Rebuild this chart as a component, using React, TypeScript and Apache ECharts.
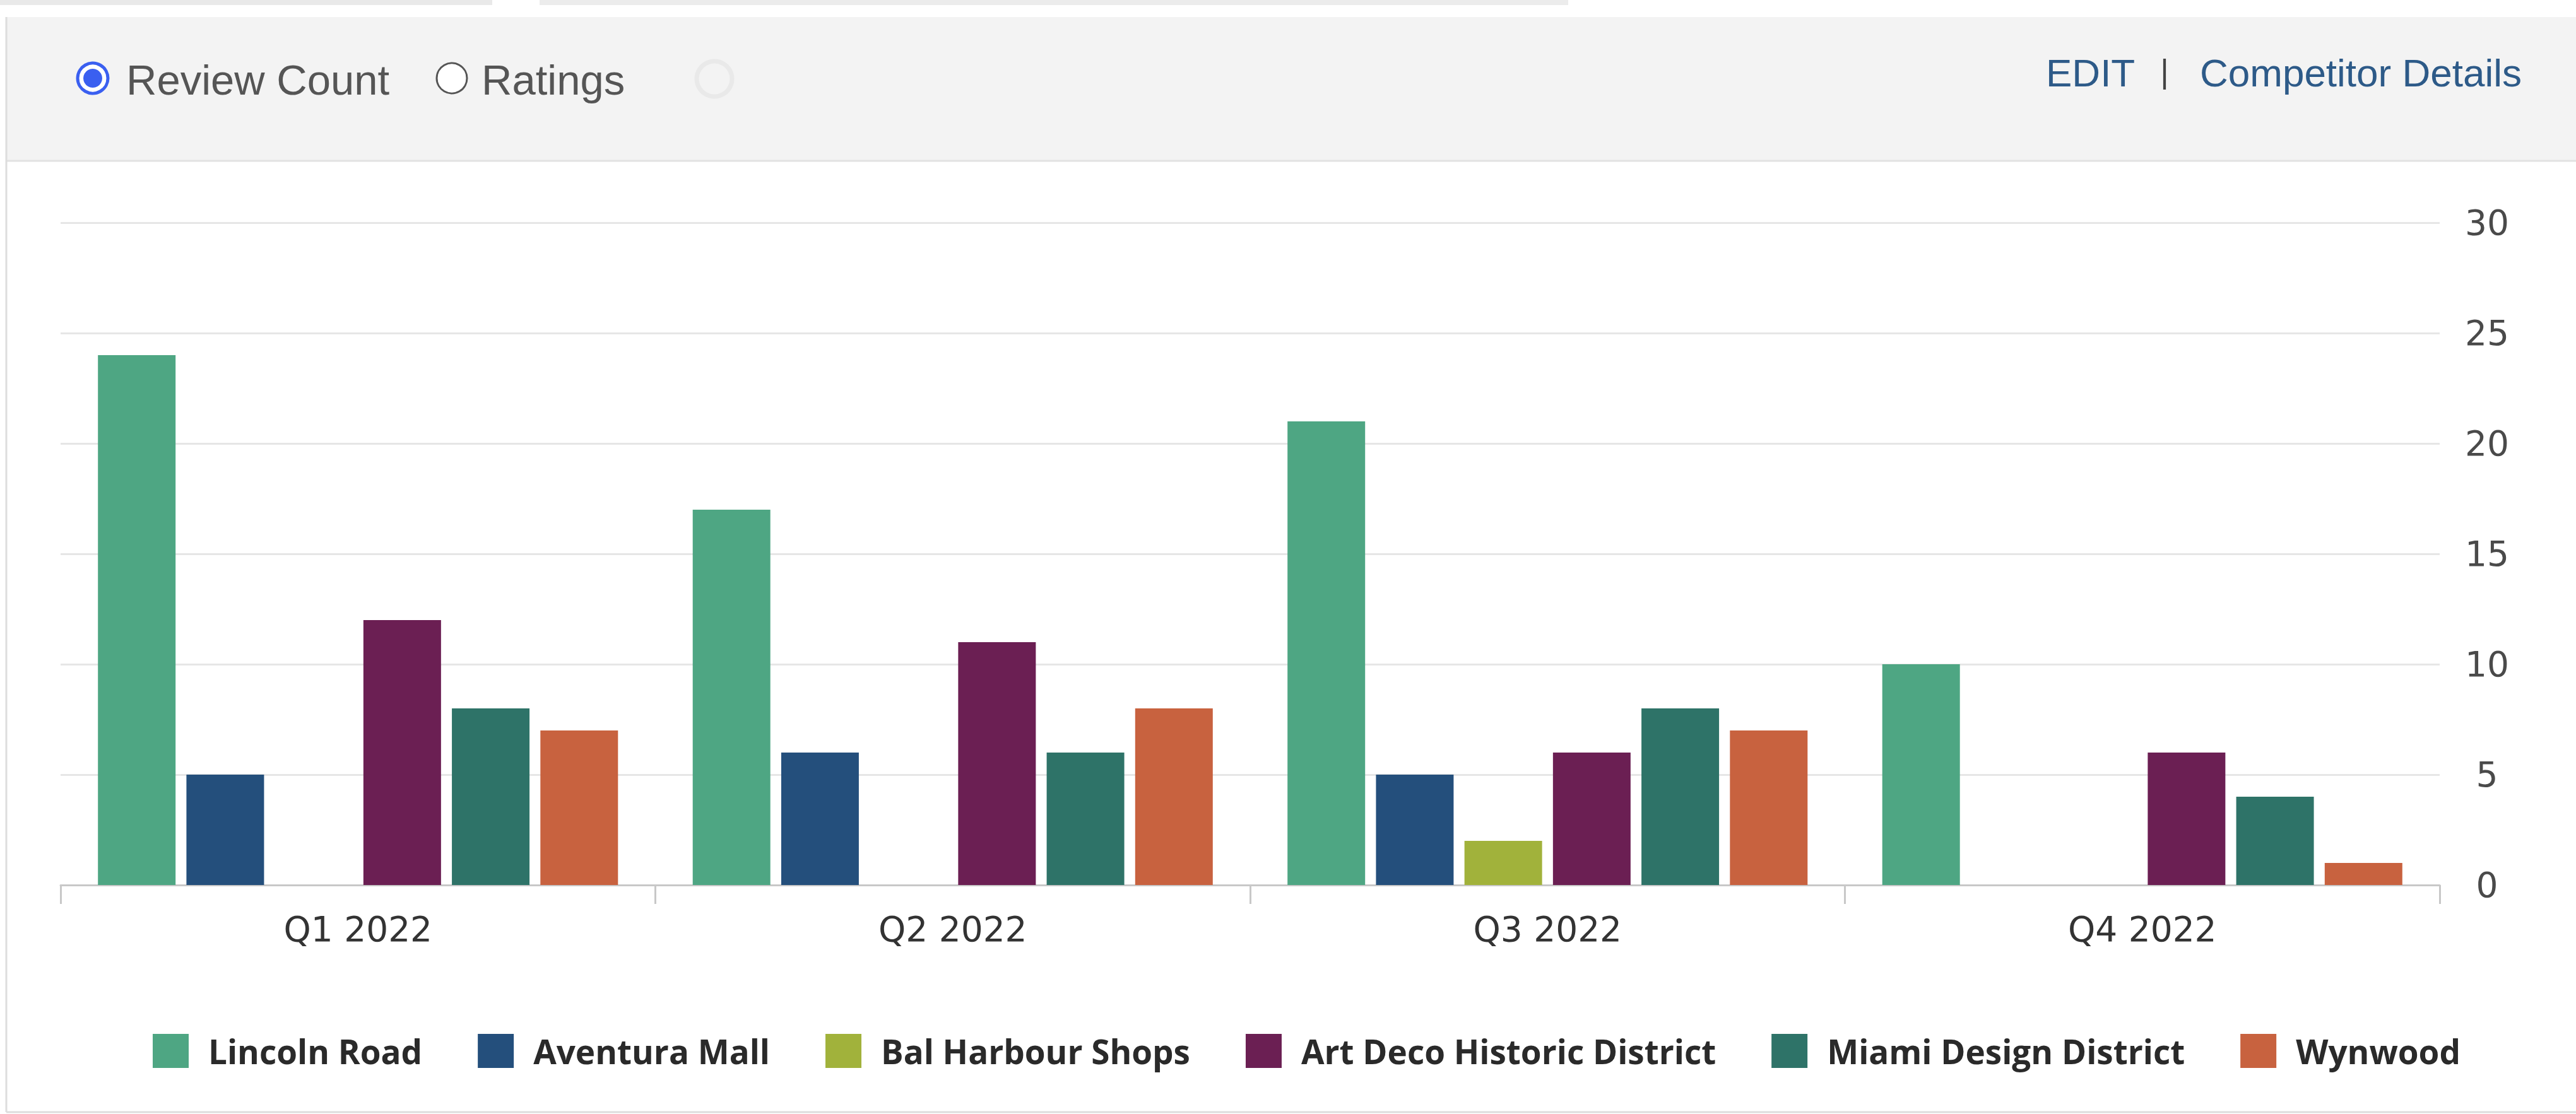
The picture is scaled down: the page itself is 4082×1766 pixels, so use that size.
import React, { useEffect, useRef } from "react";
import * as echarts from "echarts";

const quarters = ["Q1 2022", "Q2 2022", "Q3 2022", "Q4 2022"];
const seriesNames = [
  "Lincoln Road",
  "Aventura Mall",
  "Bal Harbour Shops",
  "Art Deco Historic District",
  "Miami Design District",
  "Wynwood",
];
const lincolnRoad = [24, 17, 21, 10];
const aventuraMall = [5, 6, 5, 0];
const balHarbourShops = [0, 0, 2, 0];
const artDeco = [12, 11, 6, 6];
const miamiDesign = [8, 6, 8, 4];
const wynwood = [7, 8, 7, 1];
const seriesValues = [lincolnRoad, aventuraMall, balHarbourShops, artDeco, miamiDesign, wynwood];
const seriesColors = ["#4ea683", "#244f7c", "#a1b23b", "#6b1f53", "#2e7368", "#c8623f"];
const yTicks = { min: 0, max: 30, interval: 5 };

export default function App() {
  const ref = useRef<HTMLDivElement>(null);
  useEffect(() => {
    if (!ref.current) return;
    const chart = echarts.init(ref.current, null, { renderer: "svg" });
    const headerFont = "'Liberation Sans', Arial, sans-serif";
    chart.setOption({
      animation: false,
      backgroundColor: "#ffffff",
      graphic: [
        { type: "rect", shape: { x: 0, y: 0, width: 780, height: 8 }, style: { fill: "#e9e9e9" } },
        { type: "rect", shape: { x: 855, y: 0, width: 1630, height: 8 }, style: { fill: "#ececec" } },
        { type: "rect", shape: { x: 10, y: 27, width: 4072, height: 228 }, style: { fill: "#f3f3f3" } },
        { type: "line", shape: { x1: 10, y1: 255, x2: 4082, y2: 255 }, style: { stroke: "#e2e2e2", lineWidth: 3 } },
        { type: "line", shape: { x1: 10, y1: 27, x2: 10, y2: 1763 }, style: { stroke: "#dddddd", lineWidth: 3 } },
        { type: "line", shape: { x1: 10, y1: 1763, x2: 4082, y2: 1763 }, style: { stroke: "#dddddd", lineWidth: 3 } },
        { type: "circle", shape: { cx: 147, cy: 124, r: 24 }, style: { fill: "#ffffff", stroke: "#3a5ff0", lineWidth: 5 } },
        { type: "circle", shape: { cx: 147, cy: 124, r: 15 }, style: { fill: "#3a5ff0" } },
        { type: "text", x: 200, y: 126, style: { text: "Review Count", fontFamily: headerFont, fontSize: 67, fill: "#555555", verticalAlign: "middle" } },
        { type: "circle", shape: { cx: 716, cy: 124, r: 24 }, style: { fill: "#ffffff", stroke: "#555555", lineWidth: 3 } },
        { type: "text", x: 763, y: 126, style: { text: "Ratings", fontFamily: headerFont, fontSize: 67, fill: "#555555", verticalAlign: "middle" } },
        { type: "circle", shape: { cx: 1132, cy: 125, r: 28 }, style: { fill: "none", stroke: "#e9e9e9", lineWidth: 7 } },
        { type: "text", x: 3242, y: 115, style: { text: "EDIT", fontFamily: headerFont, fontSize: 62, fill: "#2d5a88", verticalAlign: "middle" } },
        { type: "text", x: 3430, y: 113, style: { text: "|", fontFamily: headerFont, fontSize: 52, fill: "#444444", verticalAlign: "middle", align: "center" } },
        { type: "text", x: 3486, y: 115, style: { text: "Competitor Details", fontFamily: headerFont, fontSize: 62, fill: "#2d5a88", verticalAlign: "middle" } },
      ],
      grid: { left: 96, right: 216, top: 353, bottom: 363, containLabel: false },
      legend: {
        left: 237,
        top: 1634,
        icon: "rect",
        itemWidth: 57,
        itemHeight: 54,
        itemGap: 88,
        data: seriesNames,
        textStyle: {
          fontFamily: "'Open Sans', sans-serif",
          fontWeight: "bold",
          fontSize: 53,
          color: "#2a2a2a",
          padding: [0, 0, 0, 26],
        },
      },
      xAxis: {
        type: "category",
        data: quarters,
        axisLine: { show: true, lineStyle: { color: "#c8c8c8", width: 3 } },
        axisTick: { show: true, length: 30, lineStyle: { color: "#c8c8c8", width: 3 } },
        axisLabel: { fontFamily: "'DejaVu Sans', sans-serif", fontSize: 55, color: "#333333", margin: 42 },
      },
      yAxis: {
        type: "value",
        position: "right",
        min: yTicks.min,
        max: yTicks.max,
        interval: yTicks.interval,
        axisLine: { show: false },
        axisTick: { show: false },
        splitLine: { lineStyle: { color: "#e6e6e6", width: 3 } },
        axisLabel: { fontFamily: "'DejaVu Sans', sans-serif", fontSize: 55, color: "#4a4a4a", margin: 75, align: "center" },
      },
      series: seriesNames.map((name, i) => ({
        name,
        type: "bar",
        data: seriesValues[i],
        barWidth: 123,
        barGap: "14%",
        itemStyle: { color: seriesColors[i] },
      })),
    });
    return () => chart.dispose();
  }, []);
  return (
    <div
      ref={ref}
      style={{ position: "fixed", left: 0, top: 0, width: 4082, height: 1766 }}
    />
  );
}
